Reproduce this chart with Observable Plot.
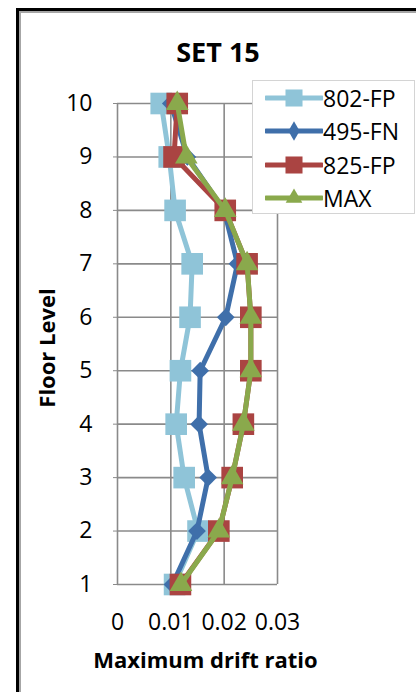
<!DOCTYPE html>
<html>
<head>
<meta charset="utf-8">
<script src="https://cdn.jsdelivr.net/npm/d3@7"></script>
<script src="https://cdn.jsdelivr.net/npm/@observablehq/plot@0.6"></script>
<style>
  html, body { margin: 0; padding: 0; background: #fff; }
  body { width: 416px; height: 692px; overflow: hidden; position: relative; font-family: "Open Sans", sans-serif; }
  .frame1 { position: absolute; left: 16px; top: 8px; width: 500px; height: 800px; border-left: 3px solid #000; border-top: 3px solid #000; }
  .frame2 { position: absolute; left: 19px; top: 11px; width: 500px; height: 800px; border-left: 2px solid #a6a6a6; border-top: 2px solid #a6a6a6; }
  #chart { position: absolute; left: 0; top: 0; }
  .txt { position: absolute; line-height: 1; white-space: nowrap; color: #000; }
  #legend { position: absolute; left: 252px; top: 80px; width: 161px; height: 132px; border: 1px solid #d4d4d4; background: #fff; }
  .lrow { position: absolute; left: 0; height: 24px; width: 161px; }
  .lrow svg { position: absolute; left: 12px; top: 0; }
  .lrow span { position: absolute; left: 70px; top: 0; font-size: 23px; line-height: 24px; }
</style>
</head>
<body>
<div class="frame1"></div>
<div class="frame2"></div>
<div id="chart"></div>
<div class="txt" style="left:118px;width:200px;text-align:center;top:38px;font-size:27px;font-weight:bold;">SET 15</div>
<div class="txt" style="left:0px;width:411px;text-align:center;top:648px;font-size:22px;font-weight:bold;">Maximum drift ratio</div>
<div class="txt" style="left:46px;top:348px;font-size:22px;font-weight:bold;transform:translate(-50%,-50%) rotate(-90deg);">Floor Level</div>
<div id="legend"></div>
<script>
const floors = [1, 2, 3, 4, 5, 6, 7, 8, 9, 10];
const floorLabels = ["1", "2", "3", "4", "5", "6", "7", "8", "9", "10"];
const xTicks = [0, 0.01, 0.02, 0.03];
const xTickLabels = ["0", "0.01", "0.02", "0.03"];
const seriesNames = ["802-FP", "495-FN", "825-FP", "MAX"];
const fp802 = [0.0107, 0.0151, 0.0125, 0.0110, 0.0118, 0.0136, 0.0140, 0.0108, 0.0097, 0.0082];
const fn495 = [0.0103, 0.0149, 0.0170, 0.0153, 0.0155, 0.0203, 0.0225, 0.0200, 0.0131, 0.0100];
const fp825 = [0.0118, 0.0190, 0.0215, 0.0236, 0.0250, 0.0250, 0.0243, 0.0202, 0.0106, 0.0112];
const maxv  = [0.0119, 0.0190, 0.0215, 0.0236, 0.0250, 0.0250, 0.0243, 0.0202, 0.0129, 0.0112];

const colors = ["#8fc4d8", "#3f6faa", "#aa4442", "#8aa94c"];
const symbols = ["square", "diamond2", "square", "triangle"];
const radii = [12.2, 8, 12.2, 8.4];
const values = [fp802, fn495, fp825, maxv];

const rows = [];
seriesNames.forEach((s, i) => floors.forEach((f, j) => rows.push({series: s, floor: f, value: values[i][j]})));

const marks = [
  Plot.gridX(xTicks, {stroke: "#8a8a8a", strokeOpacity: 1, strokeWidth: 1.6}),
  Plot.gridY(floors, {stroke: "#8a8a8a", strokeOpacity: 1, strokeWidth: 1.6}),
  Plot.axisX(xTicks, {tickSize: 0, tickPadding: 29, fontSize: 23, label: null, tickFormat: d => xTickLabels[xTicks.indexOf(d)]}),
  Plot.axisY(floors, {tickSize: 4, tickPadding: 21, fontSize: 23, label: null, stroke: "#8a8a8a", tickFormat: d => floorLabels[floors.indexOf(d)]})
];
seriesNames.forEach((s, i) => {
  const data = rows.filter(r => r.series === s);
  marks.push(Plot.line(data, {x: "value", y: "floor", stroke: colors[i], strokeWidth: 5, curve: "linear"}));
  marks.push(Plot.dot(data, {x: "value", y: "floor", symbol: () => symbols[i], r: radii[i], fill: colors[i], stroke: "none"}));
});

const chart = Plot.plot({
  width: 416, height: 692,
  marginLeft: 117, marginRight: 139, marginTop: 103, marginBottom: 108,
  x: {domain: [0, 0.03]},
  y: {domain: [1, 10]},
  symbol: {type: "identity"},
  style: {fontFamily: "Open Sans", fontSize: "23px", color: "#000", background: "transparent", overflow: "visible"},
  marks
});
document.getElementById("chart").appendChild(chart);

// legend
const legend = document.getElementById("legend");
const centers = [98, 131, 165, 198];
const lsym = {
  "square": d3.symbol(d3.symbolSquare, 290)(),
  "diamond2": d3.symbol(d3.symbolDiamond, 110)(),
  "triangle": d3.symbol(d3.symbolTriangle, 120)()
};
seriesNames.forEach((s, i) => {
  const row = document.createElement("div");
  row.className = "lrow";
  row.style.top = (centers[i] - 81 - 12) + "px";
  row.innerHTML = `<svg width="58" height="24"><line x1="1" x2="57" y1="12" y2="12" stroke="${colors[i]}" stroke-width="5" stroke-linecap="round"/><path transform="translate(29,12)" d="${lsym[symbols[i]]}" fill="${colors[i]}"/></svg><span>${s}</span>`;
  legend.appendChild(row);
});
</script>
</body>
</html>
